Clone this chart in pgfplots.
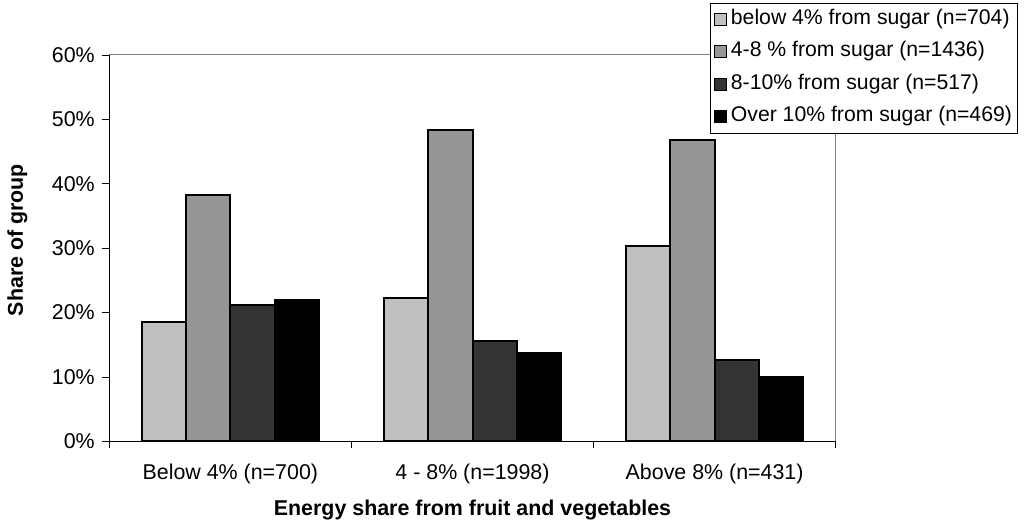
\documentclass[border=0pt]{standalone}
\usepackage{fontspec}
\setmainfont{Liberation Sans}
\usepackage{pgfplots}
\pgfplotsset{compat=1.18}
\definecolor{cA}{HTML}{C0C0C0}
\definecolor{cB}{HTML}{969696}
\definecolor{cC}{HTML}{333333}
\definecolor{cD}{HTML}{000000}
\definecolor{frame}{HTML}{808080}
\begin{document}
\begin{tikzpicture}
\useasboundingbox (-109.3pt,-80.7pt) rectangle (916.7pt,441.3pt);
\begin{axis}[
  scale only axis, width=726.4pt, height=386.3pt,
  xmin=-0.5, xmax=2.5, ymin=0, ymax=60,
  clip=false,
  ybar=0pt, bar width=44.2pt,
  axis x line*=bottom, axis y line*=left,
  axis line style={-, black, line width=1pt},
  tick align=outside, major tick length=7pt,
  tick style={black, line width=0.8pt},
  font=\fontsize{21.4}{25}\selectfont,
  ytick={0,10,...,60},
  yticklabels={0\%,10\%,20\%,30\%,40\%,50\%,60\%},
  yticklabel style={xshift=-4pt},
  xtick={-0.5,0.5,1.5,2.5},
  xticklabels={,,,},
  xticklabel style={yshift=-19pt},
  extra x ticks={0,1,2},
  extra x tick labels={Below 4\% (n=700), 4 - 8\% (n=1998), Above 8\% (n=431)},
  extra x tick style={major tick length=0pt},
  xlabel={\textbf{Energy share from fruit and vegetables}},
  ylabel={\textbf{Share of group}},
  every axis x label/.style={at={(axis description cs:0.5,-0.1786)}, anchor=center},
  every axis y label/.style={at={(axis description cs:-0.1266,0.521)}, anchor=center, rotate=90},
  legend cell align=left,
  legend image code/.code={\draw[#1, line width=1pt] (0pt,-6pt) rectangle (12pt,6pt);},
  legend style={at={(axis description cs:0.827,1.1354)}, anchor=north west,
    draw=black, line width=0.8pt, fill=white,
    font=\fontsize{21.2}{25}\selectfont,
    inner xsep=4pt, inner ysep=5pt, row sep=9.3pt,
    nodes={inner sep=1.5pt, text height=15pt, text depth=5pt},
    /tikz/every odd column/.append style={column sep=2pt}},
]
\addplot[fill=cA, draw=black, line width=2pt] coordinates {(0,18.6) (1,22.2) (2,30.3)};
\addplot[fill=cB, draw=black, line width=2pt] coordinates {(0,38.3) (1,48.4) (2,46.8)};
\addplot[fill=cC, draw=black, line width=2pt] coordinates {(0,21.1) (1,15.6) (2,12.7)};
\addplot[fill=cD, draw=black, line width=2pt] coordinates {(0,22.0) (1,13.7) (2,10.0)};
\legend{below 4\% from sugar (n=704), 4-8 \% from sugar (n=1436), 8-10\% from sugar (n=517), Over 10\% from sugar (n=469)}
\draw[frame, line width=1pt] (rel axis cs:0,1) -- (rel axis cs:1,1) -- (rel axis cs:1,0);
\end{axis}
\end{tikzpicture}
\end{document}
